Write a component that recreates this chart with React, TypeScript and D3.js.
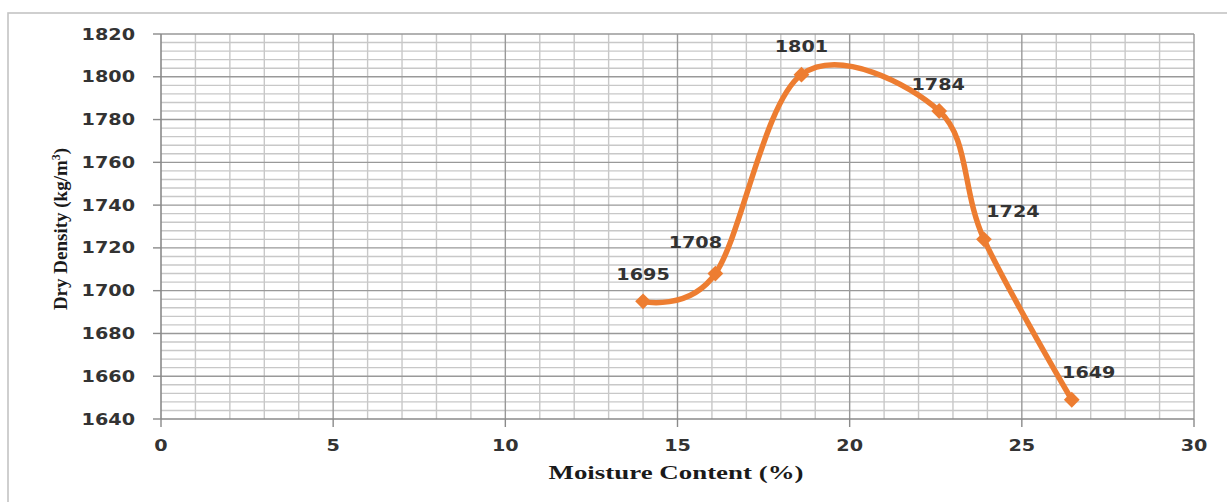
import React, { useEffect, useRef } from 'react';
import * as d3 from 'd3';

// moisture content (%) and dry density (kg/m3)
const moisture = [14.0, 16.1, 18.6, 22.6, 23.9, 26.45];
const density = [1695, 1708, 1801, 1784, 1724, 1649];
// label nudges (px) relative to each marker, as placed in the original
const labelDx = [0, -20, 0, -1, 29, 17];
const labelDy = [-27, -31, -28, -27, -28, -27];

const xTicks = [0, 5, 10, 15, 20, 25, 30];
const yTicks = [1640, 1660, 1680, 1700, 1720, 1740, 1760, 1780, 1800, 1820];

export default function App() {
    const ref = useRef<SVGSVGElement | null>(null);

    useEffect(() => {
        const svg = d3.select(ref.current);
        svg.selectAll('*').remove();
        const width = 1227, height = 502;
        const margin = { top: 34, right: 33, bottom: 83, left: 161 };
        const x = d3.scaleLinear().domain([0, 30]).range([margin.left, width - margin.right]);
        const y = d3.scaleLinear().domain([1640, 1820]).range([height - margin.bottom, margin.top]);
        const tickFont = '"DejaVu Sans", Verdana, sans-serif';
        const stretch = 1.28;

        svg.attr('viewBox', `0 0 ${width} ${height}`);

        // chart frame (runs off the right/bottom edge in the original)
        svg.append('rect')
            .attr('x', 8).attr('y', 13)
            .attr('width', 1300).attr('height', 600)
            .attr('fill', '#fff')
            .attr('stroke', '#c4c4c4')
            .attr('stroke-width', 1.6);

        const grid = svg.append('g');
        // minor grid
        d3.range(1, 30).filter(v => v % 5 !== 0).forEach(v => {
            grid.append('line')
                .attr('x1', x(v)).attr('x2', x(v))
                .attr('y1', y(1820)).attr('y2', y(1640))
                .attr('stroke', '#c8c8c8').attr('stroke-width', 1.4);
        });
        d3.range(1644, 1820, 4).filter(v => (v - 1640) % 20 !== 0).forEach(v => {
            grid.append('line')
                .attr('x1', x(0)).attr('x2', x(30))
                .attr('y1', y(v)).attr('y2', y(v))
                .attr('stroke', '#c8c8c8').attr('stroke-width', 1.4);
        });
        // major grid
        xTicks.slice(1).forEach(v => {
            grid.append('line')
                .attr('x1', x(v)).attr('x2', x(v))
                .attr('y1', y(1820)).attr('y2', y(1640))
                .attr('stroke', '#999').attr('stroke-width', 1.4);
        });
        yTicks.slice(1).forEach(v => {
            grid.append('line')
                .attr('x1', x(0)).attr('x2', x(30))
                .attr('y1', y(v)).attr('y2', y(v))
                .attr('stroke', '#999').attr('stroke-width', 1.4);
        });

        // axes
        const axisColor = '#8a8a8a';
        svg.append('line')
            .attr('x1', x(0)).attr('x2', x(0))
            .attr('y1', y(1820)).attr('y2', y(1640))
            .attr('stroke', axisColor).attr('stroke-width', 1.6);
        svg.append('line')
            .attr('x1', x(0)).attr('x2', x(30))
            .attr('y1', y(1640)).attr('y2', y(1640))
            .attr('stroke', axisColor).attr('stroke-width', 1.6);
        yTicks.forEach(v => {
            svg.append('line')
                .attr('x1', x(0) - 8).attr('x2', x(0))
                .attr('y1', y(v)).attr('y2', y(v))
                .attr('stroke', axisColor).attr('stroke-width', 1.4);
            svg.append('text')
                .attr('transform', `translate(${x(0) - 26},${y(v) + 5.5}) scale(${stretch},1)`)
                .attr('text-anchor', 'end')
                .attr('font-family', tickFont)
                .attr('font-weight', 'bold')
                .attr('font-size', 15)
                .attr('fill', '#333')
                .text(v);
        });
        xTicks.forEach(v => {
            svg.append('line')
                .attr('x1', x(v)).attr('x2', x(v))
                .attr('y1', y(1640)).attr('y2', y(1640) + 8)
                .attr('stroke', axisColor).attr('stroke-width', 1.4);
            svg.append('text')
                .attr('transform', `translate(${x(v)},${y(1640) + 32}) scale(${stretch},1)`)
                .attr('text-anchor', 'middle')
                .attr('font-family', tickFont)
                .attr('font-weight', 'bold')
                .attr('font-size', 15)
                .attr('fill', '#333')
                .text(v);
        });

        // axis titles
        svg.append('text')
            .attr('x', 676).attr('y', 479)
            .attr('text-anchor', 'middle')
            .attr('font-family', '"Liberation Serif", "Times New Roman", serif')
            .attr('font-weight', 'bold')
            .attr('font-size', 18)
            .attr('textLength', 255)
            .attr('lengthAdjust', 'spacingAndGlyphs')
            .attr('fill', '#1a1a1a')
            .text('Moisture Content (%)');

        const yTitle = svg.append('text')
            .attr('transform', `translate(67,229) rotate(-90)`)
            .attr('text-anchor', 'middle')
            .attr('font-family', '"Liberation Serif", "Times New Roman", serif')
            .attr('font-weight', 'bold')
            .attr('font-size', 19)
            .attr('fill', '#1a1a1a');
        yTitle.append('tspan').text('Dry Density (kg/m');
        yTitle.append('tspan').attr('font-size', 12).attr('dy', -7).text('3');
        yTitle.append('tspan').attr('dy', 7).text(')');

        // smoothed series line
        const pts = moisture.map((m, i) => [x(m), y(density[i])] as [number, number]);
        const line = d3.line().curve(d3.curveCardinal.tension(0));
        svg.append('path')
            .datum(pts)
            .attr('fill', 'none')
            .attr('stroke', '#ED7D31')
            .attr('stroke-width', 5.5)
            .attr('stroke-linejoin', 'round')
            .attr('d', line as any);

        svg.selectAll('path.marker').data(pts).join('path')
            .attr('class', 'marker')
            .attr('transform', d => `translate(${d[0]},${d[1]}) rotate(45)`)
            .attr('d', d3.symbol().type(d3.symbolSquare).size(125)() as string)
            .attr('fill', '#ED7D31');

        // data labels
        svg.selectAll('text.lbl').data(density).join('text')
            .attr('class', 'lbl')
            .attr('transform', (d, i) => `translate(${pts[i][0] + labelDx[i]},${pts[i][1] + labelDy[i] + 5.5}) scale(${stretch},1)`)
            .attr('text-anchor', 'middle')
            .attr('font-family', tickFont)
            .attr('font-weight', 'bold')
            .attr('font-size', 15)
            .attr('fill', '#333')
            .text(d => d);
    }, []);

    return <svg ref={ref} width={1227} height={502} style={{ position: 'absolute', left: 0, top: 0, background: '#fff' }} />;
}
